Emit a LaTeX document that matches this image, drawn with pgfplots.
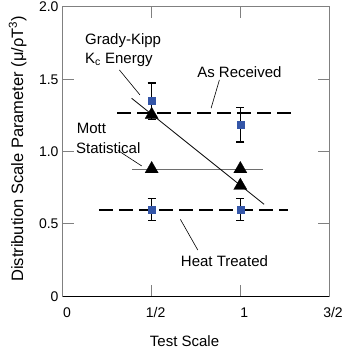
\documentclass[border=0pt]{standalone}
\usepackage{fontspec}
\setmainfont{Liberation Sans}
\usepackage{pgfplots}
\pgfplotsset{compat=1.18}
\definecolor{sqblue}{RGB}{52,86,168}
\definecolor{axgray}{RGB}{128,128,128}
\definecolor{mottgray}{RGB}{110,110,110}
\begin{document}
\begin{tikzpicture}
\begin{axis}[
  scale only axis,
  width=266pt, height=289.3pt,
  xmin=0, xmax=1.5, ymin=0, ymax=2,
  axis line style={axgray, line width=1pt},
  tick style={axgray, line width=1pt},
  tick align=inside,
  major tick length=11pt,
  xtick={0,0.5,1,1.5},
  xticklabels={0,1/2,1,3/2},
  ytick={0,0.5,1,1.5,2},
  yticklabels={0,0.5,1.0,1.5,2.0},
  ticklabel style={font=\fontsize{14}{16}\selectfont},
  xticklabel style={anchor=base, yshift=-21pt, xshift=4pt},
  yticklabel style={xshift=-1pt},
  /pgf/number format/assume math mode=true,
  xlabel={Test Scale},
  ylabel={Distribution Scale Parameter (μ/ρT\textsuperscript{3})},
  every axis x label/.style={at={(axis description cs:0.457,-0.175)}, anchor=base, font=\fontsize{15}{18}\selectfont},
  every axis y label/.style={at={(axis description cs:-0.150,0.51)}, anchor=base, rotate=90, font=\fontsize{16.5}{19}\selectfont},
  clip=false,
]
% dashed lines
\addplot[black, line width=2pt, dash pattern=on 14pt off 6pt] coordinates {(0.306,1.268) (1.308,1.268)};
\addplot[black, line width=2pt, dash pattern=on 14pt off 6pt] coordinates {(0.203,0.60) (1.267,0.60)};
% Mott line
\addplot[mottgray, line width=1pt] coordinates {(0.391,0.88) (1.126,0.88)};
% error bars
\addplot[only marks, mark=none, black,
  error bars/.cd, y dir=both, y explicit,
  error bar style={line width=1.2pt, black},
  error mark options={rotate=90, mark size=4pt, line width=1.2pt, black}]
  coordinates {(0.5,1.35) +- (0,0.125) (1,1.187) +- (0,0.12) (0.5,0.60) +- (0,0.075) (1,0.60) +- (0,0.075)};
% blue squares
\addplot[only marks, mark=square*, mark size=3.6pt, mark options={fill=sqblue, draw=sqblue}]
  coordinates {(0.5,1.35) (1,1.187) (0.5,0.60) (1,0.60)};
% Grady-Kipp line
\addplot[black, line width=0.8pt] coordinates {(0.387,1.369) (1.134,0.636)};
% triangles
\addplot[only marks, mark=triangle*, mark size=7.6pt, mark options={fill=black, draw=black, line width=0.3pt}]
  coordinates {(0.5,1.255) (0.5,0.88) (1,0.88) (1,0.765)};
% leader lines
\addplot[black, line width=0.6pt] coordinates {(0.318,1.565) (0.434,1.392)};
\addplot[black, line width=0.6pt] coordinates {(0.882,1.496) (0.835,1.300)};
\addplot[black, line width=0.6pt] coordinates {(0.310,1.008) (0.444,0.901)};
\addplot[black, line width=0.6pt] coordinates {(0.662,0.532) (0.760,0.320)};
% bottom axis in black
\draw[black, line width=1pt] (axis cs:0,0) -- (axis cs:1.5,0);
% annotations
\begin{scope}[every node/.style={inner sep=0pt, anchor=base west, font=\fontsize{15}{18}\selectfont}]
\node at (axis cs:0.124,1.738) {Grady-Kipp};
\node at (axis cs:0.124,1.611) {K\textsubscript{c} Energy};
\node at (axis cs:0.756,1.514) {As Received};
\node at (axis cs:0.0773,1.127) {Mott};
\node at (axis cs:0.0733,0.989) {Statistical};
\node at (axis cs:0.664,0.205) {Heat Treated};
\end{scope}
\end{axis}
\pgfresetboundingbox
\path (-63pt,-56.7pt) rectangle (279pt,296.3pt);
\end{tikzpicture}
\end{document}
